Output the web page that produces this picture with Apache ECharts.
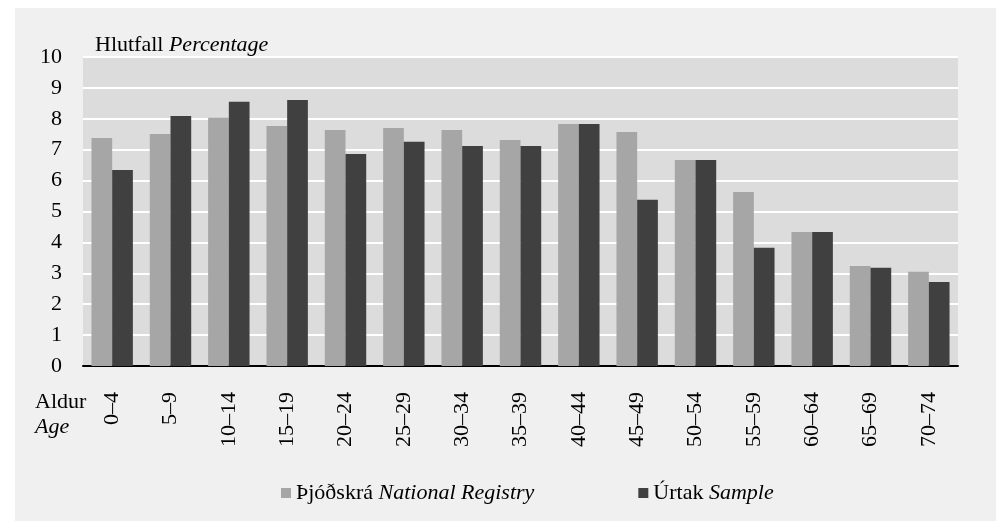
<!DOCTYPE html>
<html>
<head>
<meta charset="utf-8">
<script src="https://cdn.jsdelivr.net/npm/echarts@6/dist/echarts.min.js"></script>
<style>
  html, body { margin: 0; padding: 0; background: #fff; }
  #chart { width: 999px; height: 527px; }
</style>
</head>
<body>
<div id="chart"></div>
<script>
// age groups and shares (%)
const ageGroups = ['0–4', '5–9', '10–14', '15–19', '20–24', '25–29', '30–34', '35–39',
  '40–44', '45–49', '50–54', '55–59', '60–64', '65–69', '70–74']
const registry = [7.38, 7.51, 8.03, 7.77, 7.64, 7.70, 7.64, 7.31, 7.83, 7.57, 6.67, 5.63, 4.34, 3.24, 3.05]
const sample = [6.34, 8.09, 8.55, 8.61, 6.86, 7.26, 7.12, 7.12, 7.83, 5.38, 6.67, 3.83, 4.34, 3.18, 2.72]
const yTicks = [0, 1, 2, 3, 4, 5, 6, 7, 8, 9, 10]

const serif = '"Liberation Serif", "DejaVu Serif", serif'
const fs = 22
const italic = { fontStyle: 'italic', fontSize: fs, fontFamily: serif }
const chart = echarts.init(document.getElementById('chart'))

chart.setOption({
  backgroundColor: '#ffffff',
  animation: false,
  textStyle: { fontFamily: serif },
  graphic: [
    {
      type: 'rect',
      z: -10,
      shape: { x: 15, y: 8, width: 981, height: 513 },
      style: { fill: '#f0f0f0' }
    },
    {
      type: 'text',
      left: 35,
      top: 390,
      style: {
        text: 'Aldur\n{i|Age}',
        font: fs + 'px ' + serif,
        fill: '#000',
        lineHeight: 25,
        rich: { i: Object.assign({ lineHeight: 25 }, italic) }
      }
    }
  ],
  title: {
    text: 'Hlutfall {i|Percentage}',
    left: 90,
    top: 29,
    textStyle: {
      fontFamily: serif,
      fontSize: fs,
      fontWeight: 'normal',
      color: '#000',
      rich: { i: italic }
    }
  },
  legend: {
    left: 276,
    top: 477,
    itemWidth: 10,
    itemHeight: 10,
    itemGap: 104,
    icon: 'rect',
    textStyle: { fontFamily: serif, fontSize: fs, color: '#000', rich: { i: italic } },
    formatter: function (name) {
      const parts = name.split('|')
      return parts[0] + ' {i|' + parts[1] + '}'
    },
    data: ['Þjóðskrá|National Registry', 'Úrtak|Sample']
  },
  grid: {
    left: 83,
    right: 41,
    top: 57,
    bottom: 161,
    show: true,
    backgroundColor: '#dcdcdc',
    borderWidth: 0
  },
  xAxis: {
    type: 'category',
    data: ageGroups,
    axisLine: { lineStyle: { color: '#000', width: 2 } },
    axisTick: { show: false },
    axisLabel: {
      rotate: 90,
      interval: 0,
      margin: 26,
      fontFamily: serif,
      fontSize: fs,
      color: '#000'
    }
  },
  yAxis: {
    type: 'value',
    min: yTicks[0],
    max: yTicks[yTicks.length - 1],
    interval: 1,
    axisLine: { show: false },
    axisTick: { show: false },
    splitLine: { lineStyle: { color: '#ffffff', width: 2 } },
    axisLabel: { margin: 21, fontFamily: serif, fontSize: fs, color: '#000' }
  },
  series: [
    {
      name: 'Þjóðskrá|National Registry',
      type: 'bar',
      data: registry,
      barGap: '0%',
      barCategoryGap: '29%',
      itemStyle: { color: '#a6a6a6' }
    },
    {
      name: 'Úrtak|Sample',
      type: 'bar',
      data: sample,
      itemStyle: { color: '#404040' }
    }
  ]
})
</script>
</body>
</html>
